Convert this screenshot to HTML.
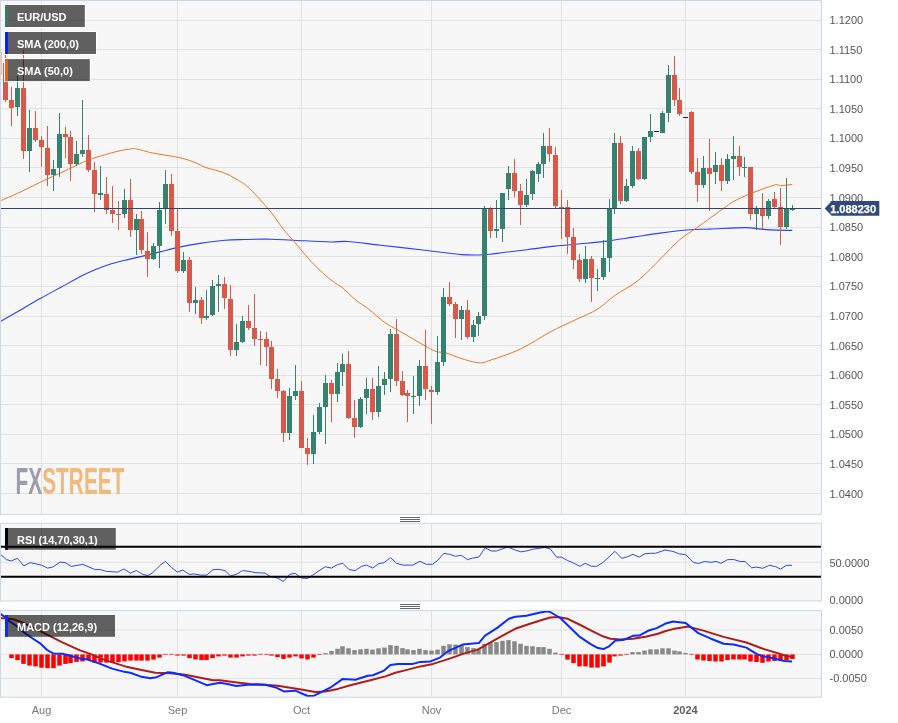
<!DOCTYPE html><html><head><meta charset="utf-8"><style>html,body{margin:0;padding:0;background:#fff;}svg{display:block;will-change:transform;font-family:"Liberation Sans",sans-serif;}</style></head><body>
<svg width="898" height="723" viewBox="0 0 898 723">
<rect x="0" y="0" width="898" height="723" fill="#ffffff"/>
<defs>
<clipPath id="cp0"><rect x="1" y="1" width="819.9" height="512.9"/></clipPath>
<clipPath id="cp1"><rect x="1" y="523.8" width="819.9" height="76.7"/></clipPath>
<clipPath id="cp2"><rect x="1" y="611.1" width="819.9" height="85.6"/></clipPath>
</defs>
<rect x="0.5" y="0.5" width="820.9" height="513.9" fill="#f7f7f7" stroke="#cdd5e6" stroke-width="1"/>
<rect x="0.5" y="523.3" width="820.9" height="77.7" fill="#f7f7f7" stroke="#cdd5e6" stroke-width="1"/>
<rect x="0.5" y="610.6" width="820.9" height="86.6" fill="#f7f7f7" stroke="#cdd5e6" stroke-width="1"/>
<g clip-path="url(#cp0)">
<line x1="0" x2="821.4" y1="20.5" y2="20.5" stroke="#e1e1e1" stroke-width="1"/>
<line x1="0" x2="821.4" y1="49.5" y2="49.5" stroke="#e1e1e1" stroke-width="1"/>
<line x1="0" x2="821.4" y1="79.5" y2="79.5" stroke="#e1e1e1" stroke-width="1"/>
<line x1="0" x2="821.4" y1="108.5" y2="108.5" stroke="#e1e1e1" stroke-width="1"/>
<line x1="0" x2="821.4" y1="138.5" y2="138.5" stroke="#e1e1e1" stroke-width="1"/>
<line x1="0" x2="821.4" y1="167.5" y2="167.5" stroke="#e1e1e1" stroke-width="1"/>
<line x1="0" x2="821.4" y1="197.5" y2="197.5" stroke="#e1e1e1" stroke-width="1"/>
<line x1="0" x2="821.4" y1="227.5" y2="227.5" stroke="#e1e1e1" stroke-width="1"/>
<line x1="0" x2="821.4" y1="256.5" y2="256.5" stroke="#e1e1e1" stroke-width="1"/>
<line x1="0" x2="821.4" y1="286.5" y2="286.5" stroke="#e1e1e1" stroke-width="1"/>
<line x1="0" x2="821.4" y1="316.5" y2="316.5" stroke="#e1e1e1" stroke-width="1"/>
<line x1="0" x2="821.4" y1="345.5" y2="345.5" stroke="#e1e1e1" stroke-width="1"/>
<line x1="0" x2="821.4" y1="375.5" y2="375.5" stroke="#e1e1e1" stroke-width="1"/>
<line x1="0" x2="821.4" y1="404.5" y2="404.5" stroke="#e1e1e1" stroke-width="1"/>
<line x1="0" x2="821.4" y1="434.5" y2="434.5" stroke="#e1e1e1" stroke-width="1"/>
<line x1="0" x2="821.4" y1="463.5" y2="463.5" stroke="#e1e1e1" stroke-width="1"/>
<line x1="0" x2="821.4" y1="493.5" y2="493.5" stroke="#e1e1e1" stroke-width="1"/>
<line x1="41.5" x2="41.5" y1="0" y2="515" stroke="#e1e1e1" stroke-width="1"/>
<line x1="177.5" x2="177.5" y1="0" y2="515" stroke="#e1e1e1" stroke-width="1"/>
<line x1="301.5" x2="301.5" y1="0" y2="515" stroke="#e1e1e1" stroke-width="1"/>
<line x1="431.5" x2="431.5" y1="0" y2="515" stroke="#e1e1e1" stroke-width="1"/>
<line x1="561.5" x2="561.5" y1="0" y2="515" stroke="#e1e1e1" stroke-width="1"/>
<line x1="685.5" x2="685.5" y1="0" y2="515" stroke="#e1e1e1" stroke-width="1"/>
<text x="15.6" y="493.6" font-size="37.5" font-weight="bold" textLength="108.8" lengthAdjust="spacingAndGlyphs"><tspan fill="#9b9ea8">FX</tspan><tspan fill="#f0ba7c">STREET</tspan></text>
<path d="M0,321.8 C3.33,319.87 13.32,314.07 20,310.2 C26.68,306.33 33.27,302.43 40.1,298.6 C46.93,294.77 53.95,291.03 61,287.2 C68.05,283.37 76.73,278.5 82.4,275.6 C88.07,272.7 90.55,271.65 95,269.8 C99.45,267.95 104.1,266.08 109.1,264.5 C114.1,262.92 119.05,261.78 125,260.3 C130.95,258.82 138.97,257 144.8,255.6 C150.63,254.2 154.43,253.27 160,251.9 C165.57,250.53 171.53,248.82 178.2,247.4 C184.87,245.98 192.18,244.6 200,243.4 C207.82,242.2 217.58,240.85 225.1,240.2 C232.62,239.55 237.58,239.67 245.1,239.5 C252.62,239.33 262.27,239.08 270.2,239.2 C278.13,239.32 282.68,239.73 292.7,240.2 C302.72,240.67 321.12,241.78 330.3,242 C339.48,242.22 339.45,240.97 347.8,241.5 C356.15,242.03 367.53,243.75 380.4,245.2 C393.27,246.65 415.9,249.15 425,250.2 C434.1,251.25 428.88,250.77 435,251.5 C441.12,252.23 454.37,254.02 461.7,254.6 C469.03,255.18 474.28,255.05 479,255 C483.72,254.95 485.67,254.75 490,254.3 C494.33,253.85 498.58,253.1 505,252.3 C511.42,251.5 520.17,250.53 528.5,249.5 C536.83,248.47 546.4,247.05 555,246.1 C563.6,245.15 571.47,244.63 580.1,243.8 C588.73,242.97 597.9,242.22 606.8,241.1 C615.7,239.98 624.63,238.43 633.5,237.1 C642.37,235.77 650.58,234.32 660,233.1 C669.42,231.88 681.67,230.47 690,229.8 C698.33,229.13 700.82,229.47 710,229.1 C719.18,228.73 737.25,227.68 745.1,227.6 C752.95,227.52 752.93,228.22 757.1,228.6 C761.27,228.98 764.25,229.6 770.1,229.9 C775.95,230.2 788.52,230.32 792.2,230.4" fill="none" stroke="#2442ff" stroke-width="1.1" stroke-linejoin="round"/>
<path d="M0,201 C3.33,199.53 13.03,195.45 20,192.2 C26.97,188.95 34.63,184.9 41.8,181.5 C48.97,178.1 56.05,175.05 63,171.8 C69.95,168.55 78.17,164.35 83.5,162 C88.83,159.65 91.28,158.95 95,157.7 C98.72,156.45 101.97,155.58 105.8,154.5 C109.63,153.42 113.82,152.13 118,151.2 C122.18,150.27 127.83,149.28 130.9,148.9 C133.97,148.52 132.93,148.25 136.4,148.9 C139.87,149.55 146.77,151.73 151.7,152.8 C156.63,153.87 161.12,154.45 166,155.3 C170.88,156.15 176.17,156.7 181,157.9 C185.83,159.1 190.83,160.88 195,162.5 C199.17,164.12 201.38,165.97 206,167.6 C210.62,169.23 217.53,170.32 222.7,172.3 C227.87,174.28 232.45,176.72 237,179.5 C241.55,182.28 244.5,183.75 250,189 C255.5,194.25 264.38,204.22 270,211 C275.62,217.78 279.9,224.88 283.7,229.7 C287.5,234.52 289.75,236.35 292.8,239.9 C295.85,243.45 298.45,246.87 302,251 C305.55,255.13 309.28,259.88 314.1,264.7 C318.92,269.52 326.07,275.97 330.9,279.9 C335.73,283.83 339.05,285 343.1,288.3 C347.15,291.6 350.9,296.2 355.2,299.7 C359.5,303.2 364.08,305.58 368.9,309.3 C373.72,313.02 378.9,318.32 384.1,322 C389.3,325.68 393.2,327.38 400.1,331.4 C407,335.42 419.48,342.75 425.5,346.1 C431.52,349.45 432.78,350.37 436.2,351.5 C439.62,352.63 442.03,351.8 446,352.9 C449.97,354 454.58,356.45 460,358.1 C465.42,359.75 473.33,362.48 478.5,362.8 C483.67,363.12 483.93,362.33 491,360 C498.07,357.67 511.07,353.45 520.9,348.8 C530.73,344.15 540.98,336.9 550,332.1 C559.02,327.3 567.08,323.82 575,320 C582.92,316.18 590.85,313.3 597.5,309.2 C604.15,305.1 608.13,300.18 614.9,295.4 C621.67,290.62 630.35,286.73 638.1,280.5 C645.85,274.27 654.48,264.78 661.4,258 C668.32,251.22 673.8,244.77 679.6,239.8 C685.4,234.83 691.13,231.8 696.2,228.2 C701.27,224.6 705.47,221.48 710,218.2 C714.53,214.92 719.38,211.33 723.4,208.5 C727.42,205.67 729.65,203.65 734.1,201.2 C738.55,198.75 743.42,196.48 750.1,193.8 C756.78,191.12 769.13,186.47 774.2,185.1 C779.27,183.73 777.5,185.7 780.5,185.6 C783.5,185.5 790.25,184.68 792.2,184.5" fill="none" stroke="#f07524" stroke-width="1" stroke-linejoin="round"/>
<rect x="0" y="52" width="1.4" height="23" fill="#d85949"/>
<rect x="5" y="53" width="1" height="49" fill="#d85949"/>
<rect x="3" y="63" width="5" height="37" fill="#d85949"/>
<rect x="11" y="87" width="1" height="39" fill="#d85949"/>
<rect x="9" y="100" width="5" height="8" fill="#d85949"/>
<rect x="17" y="76" width="1" height="40" fill="#34826f"/>
<rect x="15" y="88" width="5" height="19" fill="#34826f"/>
<rect x="23" y="50" width="1" height="109" fill="#d85949"/>
<rect x="21" y="88" width="5" height="63" fill="#d85949"/>
<rect x="29" y="110" width="1" height="62" fill="#34826f"/>
<rect x="27" y="128" width="5" height="23" fill="#34826f"/>
<rect x="35" y="111" width="1" height="31" fill="#d85949"/>
<rect x="33" y="128" width="5" height="12" fill="#d85949"/>
<rect x="41" y="136" width="1" height="31" fill="#d85949"/>
<rect x="39" y="140" width="5" height="7" fill="#d85949"/>
<rect x="47" y="126" width="1" height="60" fill="#d85949"/>
<rect x="45" y="148" width="5" height="27" fill="#d85949"/>
<rect x="53" y="160" width="1" height="31" fill="#34826f"/>
<rect x="51" y="169" width="5" height="6" fill="#34826f"/>
<rect x="59" y="113" width="1" height="64" fill="#34826f"/>
<rect x="57" y="134" width="5" height="34" fill="#34826f"/>
<rect x="65" y="127" width="1" height="31" fill="#d85949"/>
<rect x="63" y="134" width="5" height="3" fill="#d85949"/>
<rect x="70" y="131" width="1" height="50" fill="#d85949"/>
<rect x="68" y="137" width="5" height="27" fill="#d85949"/>
<rect x="76" y="141" width="1" height="25" fill="#34826f"/>
<rect x="74" y="154" width="5" height="10" fill="#34826f"/>
<rect x="82" y="100" width="1" height="57" fill="#34826f"/>
<rect x="80" y="150" width="5" height="4" fill="#34826f"/>
<rect x="88" y="135" width="1" height="37" fill="#d85949"/>
<rect x="86" y="150" width="5" height="20" fill="#d85949"/>
<rect x="94" y="162" width="1" height="50" fill="#d85949"/>
<rect x="92" y="170" width="5" height="24" fill="#d85949"/>
<rect x="100" y="166" width="1" height="34" fill="#34826f"/>
<rect x="98" y="193" width="5" height="2" fill="#34826f"/>
<rect x="106" y="177" width="1" height="37" fill="#d85949"/>
<rect x="104" y="194" width="5" height="16" fill="#d85949"/>
<rect x="112" y="186" width="1" height="37" fill="#d85949"/>
<rect x="110" y="210" width="5" height="4" fill="#d85949"/>
<rect x="118" y="201" width="1" height="29" fill="#d85949"/>
<rect x="116" y="214" width="5" height="1" fill="#d85949"/>
<rect x="124" y="189" width="1" height="29" fill="#34826f"/>
<rect x="122" y="200" width="5" height="14" fill="#34826f"/>
<rect x="130" y="179" width="1" height="58" fill="#d85949"/>
<rect x="128" y="200" width="5" height="30" fill="#d85949"/>
<rect x="136" y="214" width="1" height="41" fill="#34826f"/>
<rect x="134" y="219" width="5" height="11" fill="#34826f"/>
<rect x="141" y="211" width="1" height="43" fill="#d85949"/>
<rect x="139" y="219" width="5" height="31" fill="#d85949"/>
<rect x="147" y="232" width="1" height="45" fill="#d85949"/>
<rect x="145" y="251" width="5" height="8" fill="#d85949"/>
<rect x="153" y="243" width="1" height="17" fill="#34826f"/>
<rect x="151" y="246" width="5" height="13" fill="#34826f"/>
<rect x="159" y="202" width="1" height="66" fill="#34826f"/>
<rect x="157" y="210" width="5" height="36" fill="#34826f"/>
<rect x="165" y="170" width="1" height="54" fill="#34826f"/>
<rect x="163" y="184" width="5" height="24" fill="#34826f"/>
<rect x="171" y="174" width="1" height="62" fill="#d85949"/>
<rect x="169" y="184" width="5" height="47" fill="#d85949"/>
<rect x="177" y="208" width="1" height="65" fill="#d85949"/>
<rect x="175" y="231" width="5" height="40" fill="#d85949"/>
<rect x="183" y="252" width="1" height="21" fill="#34826f"/>
<rect x="181" y="260" width="5" height="11" fill="#34826f"/>
<rect x="189" y="257" width="1" height="55" fill="#d85949"/>
<rect x="187" y="260" width="5" height="43" fill="#d85949"/>
<rect x="195" y="287" width="1" height="27" fill="#34826f"/>
<rect x="193" y="300" width="5" height="3" fill="#34826f"/>
<rect x="201" y="297" width="1" height="27" fill="#d85949"/>
<rect x="199" y="300" width="5" height="18" fill="#d85949"/>
<rect x="206" y="290" width="1" height="30" fill="#34826f"/>
<rect x="204" y="316" width="5" height="2" fill="#34826f"/>
<rect x="212" y="280" width="1" height="36" fill="#34826f"/>
<rect x="210" y="286" width="5" height="29" fill="#34826f"/>
<rect x="218" y="275" width="1" height="37" fill="#34826f"/>
<rect x="216" y="284" width="5" height="2" fill="#34826f"/>
<rect x="224" y="277" width="1" height="32" fill="#d85949"/>
<rect x="222" y="284" width="5" height="14" fill="#d85949"/>
<rect x="230" y="285" width="1" height="71" fill="#d85949"/>
<rect x="228" y="299" width="5" height="51" fill="#d85949"/>
<rect x="236" y="324" width="1" height="32" fill="#34826f"/>
<rect x="234" y="342" width="5" height="8" fill="#34826f"/>
<rect x="242" y="316" width="1" height="27" fill="#34826f"/>
<rect x="240" y="321" width="5" height="21" fill="#34826f"/>
<rect x="248" y="305" width="1" height="25" fill="#d85949"/>
<rect x="246" y="321" width="5" height="7" fill="#d85949"/>
<rect x="254" y="294" width="1" height="52" fill="#d85949"/>
<rect x="252" y="328" width="5" height="11" fill="#d85949"/>
<rect x="260" y="331" width="1" height="34" fill="#d85949"/>
<rect x="258" y="339" width="5" height="1" fill="#d85949"/>
<rect x="266" y="332" width="1" height="34" fill="#d85949"/>
<rect x="264" y="339" width="5" height="8" fill="#d85949"/>
<rect x="271" y="341" width="1" height="48" fill="#d85949"/>
<rect x="269" y="347" width="5" height="32" fill="#d85949"/>
<rect x="277" y="369" width="1" height="29" fill="#d85949"/>
<rect x="275" y="379" width="5" height="12" fill="#d85949"/>
<rect x="283" y="390" width="1" height="52" fill="#d85949"/>
<rect x="281" y="391" width="5" height="42" fill="#d85949"/>
<rect x="289" y="388" width="1" height="52" fill="#34826f"/>
<rect x="287" y="396" width="5" height="37" fill="#34826f"/>
<rect x="295" y="365" width="1" height="35" fill="#34826f"/>
<rect x="293" y="391" width="5" height="5" fill="#34826f"/>
<rect x="301" y="381" width="1" height="67" fill="#d85949"/>
<rect x="299" y="391" width="5" height="57" fill="#d85949"/>
<rect x="307" y="438" width="1" height="27" fill="#d85949"/>
<rect x="305" y="448" width="5" height="6" fill="#d85949"/>
<rect x="313" y="415" width="1" height="49" fill="#34826f"/>
<rect x="311" y="432" width="5" height="22" fill="#34826f"/>
<rect x="319" y="403" width="1" height="31" fill="#34826f"/>
<rect x="317" y="407" width="5" height="25" fill="#34826f"/>
<rect x="325" y="375" width="1" height="69" fill="#34826f"/>
<rect x="323" y="383" width="5" height="24" fill="#34826f"/>
<rect x="331" y="380" width="1" height="42" fill="#d85949"/>
<rect x="329" y="383" width="5" height="11" fill="#d85949"/>
<rect x="337" y="363" width="1" height="39" fill="#34826f"/>
<rect x="335" y="372" width="5" height="22" fill="#34826f"/>
<rect x="342" y="354" width="1" height="32" fill="#34826f"/>
<rect x="340" y="364" width="5" height="8" fill="#34826f"/>
<rect x="348" y="351" width="1" height="68" fill="#d85949"/>
<rect x="346" y="364" width="5" height="54" fill="#d85949"/>
<rect x="354" y="400" width="1" height="38" fill="#d85949"/>
<rect x="352" y="418" width="5" height="9" fill="#d85949"/>
<rect x="360" y="397" width="1" height="31" fill="#34826f"/>
<rect x="358" y="399" width="5" height="28" fill="#34826f"/>
<rect x="366" y="378" width="1" height="36" fill="#34826f"/>
<rect x="364" y="389" width="5" height="9" fill="#34826f"/>
<rect x="372" y="378" width="1" height="42" fill="#d85949"/>
<rect x="370" y="389" width="5" height="23" fill="#d85949"/>
<rect x="378" y="366" width="1" height="51" fill="#34826f"/>
<rect x="376" y="386" width="5" height="26" fill="#34826f"/>
<rect x="384" y="372" width="1" height="23" fill="#34826f"/>
<rect x="382" y="379" width="5" height="6" fill="#34826f"/>
<rect x="390" y="329" width="1" height="63" fill="#34826f"/>
<rect x="388" y="334" width="5" height="45" fill="#34826f"/>
<rect x="396" y="319" width="1" height="67" fill="#d85949"/>
<rect x="394" y="334" width="5" height="47" fill="#d85949"/>
<rect x="402" y="371" width="1" height="25" fill="#d85949"/>
<rect x="400" y="381" width="5" height="14" fill="#d85949"/>
<rect x="407" y="390" width="1" height="32" fill="#d85949"/>
<rect x="405" y="393" width="5" height="3" fill="#d85949"/>
<rect x="413" y="376" width="1" height="38" fill="#34826f"/>
<rect x="411" y="396" width="5" height="1" fill="#34826f"/>
<rect x="419" y="360" width="1" height="46" fill="#34826f"/>
<rect x="417" y="366" width="5" height="30" fill="#34826f"/>
<rect x="425" y="330" width="1" height="70" fill="#d85949"/>
<rect x="423" y="366" width="5" height="23" fill="#d85949"/>
<rect x="431" y="386" width="1" height="38" fill="#d85949"/>
<rect x="429" y="390" width="5" height="2" fill="#d85949"/>
<rect x="437" y="336" width="1" height="59" fill="#34826f"/>
<rect x="435" y="362" width="5" height="30" fill="#34826f"/>
<rect x="443" y="288" width="1" height="78" fill="#34826f"/>
<rect x="441" y="297" width="5" height="65" fill="#34826f"/>
<rect x="449" y="282" width="1" height="24" fill="#d85949"/>
<rect x="447" y="297" width="5" height="7" fill="#d85949"/>
<rect x="455" y="302" width="1" height="36" fill="#d85949"/>
<rect x="453" y="304" width="5" height="15" fill="#d85949"/>
<rect x="461" y="306" width="1" height="34" fill="#34826f"/>
<rect x="459" y="310" width="5" height="9" fill="#34826f"/>
<rect x="467" y="300" width="1" height="39" fill="#d85949"/>
<rect x="465" y="310" width="5" height="27" fill="#d85949"/>
<rect x="473" y="320" width="1" height="22" fill="#34826f"/>
<rect x="471" y="325" width="5" height="12" fill="#34826f"/>
<rect x="478" y="312" width="1" height="24" fill="#34826f"/>
<rect x="476" y="316" width="5" height="8" fill="#34826f"/>
<rect x="484" y="206" width="1" height="114" fill="#34826f"/>
<rect x="482" y="209" width="5" height="107" fill="#34826f"/>
<rect x="490" y="207" width="1" height="31" fill="#d85949"/>
<rect x="488" y="209" width="5" height="22" fill="#d85949"/>
<rect x="496" y="200" width="1" height="38" fill="#34826f"/>
<rect x="494" y="229" width="5" height="2" fill="#34826f"/>
<rect x="502" y="193" width="1" height="49" fill="#34826f"/>
<rect x="500" y="193" width="5" height="36" fill="#34826f"/>
<rect x="508" y="166" width="1" height="34" fill="#34826f"/>
<rect x="506" y="173" width="5" height="16" fill="#34826f"/>
<rect x="514" y="159" width="1" height="38" fill="#d85949"/>
<rect x="512" y="173" width="5" height="18" fill="#d85949"/>
<rect x="520" y="184" width="1" height="41" fill="#d85949"/>
<rect x="518" y="191" width="5" height="14" fill="#d85949"/>
<rect x="526" y="179" width="1" height="28" fill="#34826f"/>
<rect x="524" y="195" width="5" height="10" fill="#34826f"/>
<rect x="532" y="170" width="1" height="30" fill="#34826f"/>
<rect x="530" y="171" width="5" height="23" fill="#34826f"/>
<rect x="538" y="162" width="1" height="20" fill="#34826f"/>
<rect x="536" y="164" width="5" height="10" fill="#34826f"/>
<rect x="543" y="133" width="1" height="45" fill="#34826f"/>
<rect x="541" y="146" width="5" height="18" fill="#34826f"/>
<rect x="549" y="128" width="1" height="34" fill="#d85949"/>
<rect x="547" y="146" width="5" height="8" fill="#d85949"/>
<rect x="555" y="147" width="1" height="62" fill="#d85949"/>
<rect x="553" y="155" width="5" height="51" fill="#d85949"/>
<rect x="561" y="190" width="1" height="49" fill="#d85949"/>
<rect x="559" y="207" width="5" height="2" fill="#d85949"/>
<rect x="567" y="200" width="1" height="54" fill="#d85949"/>
<rect x="565" y="207" width="5" height="30" fill="#d85949"/>
<rect x="573" y="228" width="1" height="41" fill="#d85949"/>
<rect x="571" y="237" width="5" height="23" fill="#d85949"/>
<rect x="579" y="254" width="1" height="28" fill="#d85949"/>
<rect x="577" y="260" width="5" height="19" fill="#d85949"/>
<rect x="585" y="246" width="1" height="37" fill="#34826f"/>
<rect x="583" y="259" width="5" height="20" fill="#34826f"/>
<rect x="591" y="256" width="1" height="46" fill="#d85949"/>
<rect x="589" y="259" width="5" height="19" fill="#d85949"/>
<rect x="597" y="269" width="1" height="22" fill="#34826f"/>
<rect x="595" y="278" width="5" height="1" fill="#34826f"/>
<rect x="603" y="240" width="1" height="40" fill="#34826f"/>
<rect x="601" y="258" width="5" height="19" fill="#34826f"/>
<rect x="609" y="199" width="1" height="73" fill="#34826f"/>
<rect x="607" y="208" width="5" height="50" fill="#34826f"/>
<rect x="614" y="133" width="1" height="81" fill="#34826f"/>
<rect x="612" y="143" width="5" height="65" fill="#34826f"/>
<rect x="620" y="136" width="1" height="68" fill="#d85949"/>
<rect x="618" y="143" width="5" height="58" fill="#d85949"/>
<rect x="626" y="179" width="1" height="23" fill="#34826f"/>
<rect x="624" y="186" width="5" height="15" fill="#34826f"/>
<rect x="632" y="146" width="1" height="42" fill="#34826f"/>
<rect x="630" y="151" width="5" height="35" fill="#34826f"/>
<rect x="638" y="148" width="1" height="32" fill="#d85949"/>
<rect x="636" y="151" width="5" height="28" fill="#d85949"/>
<rect x="644" y="137" width="1" height="43" fill="#34826f"/>
<rect x="642" y="137" width="5" height="42" fill="#34826f"/>
<rect x="650" y="114" width="1" height="28" fill="#34826f"/>
<rect x="648" y="131" width="5" height="6" fill="#34826f"/>
<rect x="654" y="131" width="5" height="1" fill="#222"/>
<rect x="662" y="111" width="1" height="22" fill="#34826f"/>
<rect x="660" y="113" width="5" height="20" fill="#34826f"/>
<rect x="668" y="65" width="1" height="57" fill="#34826f"/>
<rect x="666" y="75" width="5" height="38" fill="#34826f"/>
<rect x="674" y="56" width="1" height="50" fill="#d85949"/>
<rect x="672" y="75" width="5" height="25" fill="#d85949"/>
<rect x="679" y="88" width="1" height="28" fill="#d85949"/>
<rect x="677" y="100" width="5" height="14" fill="#d85949"/>
<rect x="683" y="117" width="5" height="1" fill="#222"/>
<rect x="691" y="111" width="1" height="63" fill="#d85949"/>
<rect x="689" y="112" width="5" height="60" fill="#d85949"/>
<rect x="697" y="158" width="1" height="44" fill="#d85949"/>
<rect x="695" y="172" width="5" height="13" fill="#d85949"/>
<rect x="703" y="156" width="1" height="32" fill="#34826f"/>
<rect x="701" y="168" width="5" height="17" fill="#34826f"/>
<rect x="709" y="139" width="1" height="72" fill="#d85949"/>
<rect x="707" y="168" width="5" height="6" fill="#d85949"/>
<rect x="715" y="152" width="1" height="32" fill="#34826f"/>
<rect x="713" y="165" width="5" height="7" fill="#34826f"/>
<rect x="721" y="158" width="1" height="33" fill="#d85949"/>
<rect x="719" y="165" width="5" height="16" fill="#d85949"/>
<rect x="727" y="154" width="1" height="30" fill="#34826f"/>
<rect x="725" y="159" width="5" height="22" fill="#34826f"/>
<rect x="733" y="136" width="1" height="44" fill="#34826f"/>
<rect x="731" y="156" width="5" height="3" fill="#34826f"/>
<rect x="739" y="146" width="1" height="30" fill="#d85949"/>
<rect x="737" y="156" width="5" height="11" fill="#d85949"/>
<rect x="744" y="157" width="1" height="20" fill="#34826f"/>
<rect x="742" y="167" width="5" height="1" fill="#34826f"/>
<rect x="750" y="167" width="1" height="53" fill="#d85949"/>
<rect x="748" y="167" width="5" height="47" fill="#d85949"/>
<rect x="756" y="206" width="1" height="24" fill="#34826f"/>
<rect x="754" y="208" width="5" height="6" fill="#34826f"/>
<rect x="762" y="193" width="1" height="36" fill="#d85949"/>
<rect x="760" y="209" width="5" height="7" fill="#d85949"/>
<rect x="768" y="199" width="1" height="20" fill="#34826f"/>
<rect x="766" y="201" width="5" height="15" fill="#34826f"/>
<rect x="774" y="192" width="1" height="17" fill="#d85949"/>
<rect x="772" y="199" width="5" height="8" fill="#d85949"/>
<rect x="780" y="188" width="1" height="57" fill="#d85949"/>
<rect x="778" y="207" width="5" height="20" fill="#d85949"/>
<rect x="786" y="178" width="1" height="51" fill="#34826f"/>
<rect x="784" y="209" width="5" height="18" fill="#34826f"/>
<rect x="792" y="205" width="1" height="6" fill="#34826f"/>
<rect x="790" y="209" width="5" height="1" fill="#34826f"/>
<line x1="0" x2="821.4" y1="208.5" y2="208.5" stroke="#2d4472" stroke-width="1.1"/>
</g>
<rect x="4.5" y="4.5" width="80.8" height="23" fill="none" stroke="#ffffff" stroke-width="1"/>
<rect x="5" y="5" width="79.8" height="22" fill="#636363" style="mix-blend-mode:multiply"/>
<rect x="5" y="5" width="3" height="22" fill="#2e7d6b"/>
<text x="17" y="21.2" font-size="11" font-weight="bold" fill="#ffffff">EUR/USD</text>
<rect x="4.5" y="31.5" width="92" height="23" fill="none" stroke="#ffffff" stroke-width="1"/>
<rect x="5" y="32" width="91" height="22" fill="#636363" style="mix-blend-mode:multiply"/>
<rect x="5" y="32" width="3" height="22" fill="#0022ff"/>
<text x="17" y="48.2" font-size="11" font-weight="bold" fill="#ffffff">SMA (200,0)</text>
<rect x="4.5" y="58.6" width="85.8" height="23" fill="none" stroke="#ffffff" stroke-width="1"/>
<rect x="5" y="59.1" width="84.8" height="22" fill="#636363" style="mix-blend-mode:multiply"/>
<rect x="5" y="59.1" width="3" height="22" fill="#f06010"/>
<text x="17" y="75.3" font-size="11" font-weight="bold" fill="#ffffff">SMA (50,0)</text>
<text x="829.5" y="23.9" font-size="11" fill="#555555">1.1200</text>
<text x="829.5" y="53.5" font-size="11" fill="#555555">1.1150</text>
<text x="829.5" y="83.1" font-size="11" fill="#555555">1.1100</text>
<text x="829.5" y="112.7" font-size="11" fill="#555555">1.1050</text>
<text x="829.5" y="142.3" font-size="11" fill="#555555">1.1000</text>
<text x="829.5" y="171.9" font-size="11" fill="#555555">1.0950</text>
<text x="829.5" y="201.5" font-size="11" fill="#555555">1.0900</text>
<text x="829.5" y="231.1" font-size="11" fill="#555555">1.0850</text>
<text x="829.5" y="260.7" font-size="11" fill="#555555">1.0800</text>
<text x="829.5" y="290.3" font-size="11" fill="#555555">1.0750</text>
<text x="829.5" y="319.9" font-size="11" fill="#555555">1.0700</text>
<text x="829.5" y="349.5" font-size="11" fill="#555555">1.0650</text>
<text x="829.5" y="379.1" font-size="11" fill="#555555">1.0600</text>
<text x="829.5" y="408.7" font-size="11" fill="#555555">1.0550</text>
<text x="829.5" y="438.3" font-size="11" fill="#555555">1.0500</text>
<text x="829.5" y="467.9" font-size="11" fill="#555555">1.0450</text>
<text x="829.5" y="497.5" font-size="11" fill="#555555">1.0400</text>
<path d="M824.7,208.4 L831.7,201.1 L879.3,201.1 L879.3,215.7 L831.7,215.7 Z" fill="#2f4a7a"/>
<text x="830.2" y="212.5" font-size="11" font-weight="bold" fill="#ffffff" stroke="#ffffff" stroke-width="0.25">1.088230</text>
<g clip-path="url(#cp1)">
<line x1="41.5" x2="41.5" y1="523" y2="601" stroke="#e1e1e1" stroke-width="1"/>
<line x1="177.5" x2="177.5" y1="523" y2="601" stroke="#e1e1e1" stroke-width="1"/>
<line x1="301.5" x2="301.5" y1="523" y2="601" stroke="#e1e1e1" stroke-width="1"/>
<line x1="431.5" x2="431.5" y1="523" y2="601" stroke="#e1e1e1" stroke-width="1"/>
<line x1="561.5" x2="561.5" y1="523" y2="601" stroke="#e1e1e1" stroke-width="1"/>
<line x1="685.5" x2="685.5" y1="523" y2="601" stroke="#e1e1e1" stroke-width="1"/>
<line x1="0" x2="821.4" y1="562.2" y2="562.2" stroke="#e1e1e1" stroke-width="1"/>
<polyline points="0,553.8 6.3,559.6 11.3,560.9 17.5,558.3 23.8,565.9 30.1,562.6 41.3,565.1 47.6,568.1 52.6,567.1 60.1,562.1 65.1,562.6 71.4,566.4 82.7,564.4 95.2,569.6 100.2,569.6 106.5,571.4 117.8,572.1 124,568.9 130.3,573.1 136.6,570.6 142.8,574.4 147.8,575.6 152.8,572.6 160.4,565.1 165.4,561.4 171.6,567.6 177.4,572.1 182.9,570.1 189.2,574.4 194.2,573.9 200.4,575.1 206.7,575.1 213,569.6 219.2,569.4 225,570.6 230.5,575.9 236.3,574.3 242.6,570.6 248.8,571.3 255.1,572.6 265.1,573.1 270.1,576.4 277.6,578.1 283.4,581.4 289.7,574.3 295.2,573.3 301.4,578.1 307.7,578.4 312.7,575.1 319,570.8 325.2,566.8 331.5,568.1 337.3,564.6 342.8,563.3 349,569.6 355.3,570.6 361.6,566.3 366.6,565.1 372.8,568.1 378.4,563.8 384.1,562.6 390.4,557.6 396.7,563.3 402.9,565.1 412.9,565.1 420,561.3 426.2,564.3 432.5,564.3 438,560.1 443.8,553.3 449.5,554.3 455.5,556.3 461.3,555.3 467.6,559.6 472.6,558.1 478.8,557.1 485.1,547.8 491.4,551 496.4,551 506.4,547.5 508.9,547.5 515.2,550 520.7,551.8 526.4,551 532.7,549.3 539,548.3 544.7,547.5 550.2,548.8 556.5,557.1 561.5,557.1 567.8,560.6 574,563.3 579.8,566.3 585.3,563.3 591.6,566.3 596.6,566.3 602.9,562.6 609.1,556.8 614.9,551.3 621.7,558.3 627.4,556.8 632.9,554.3 639.2,557.1 645,553.8 650.5,553.3 655.5,553.3 665,550 673,551.4 679.3,553.9 685.7,554.7 693.2,562.3 698.3,563.5 704.6,561.5 711,562.3 716,561.5 721.1,563.3 727.4,559.7 733.7,559.5 740.1,561.5 745.1,561.5 751.5,567.8 756.5,567.1 762.9,568.3 769.2,565.3 775.5,566.6 780.6,569.1 786.4,565.3 792,565.3" fill="none" stroke="#2748ff" stroke-width="1" stroke-linejoin="round"/>
</g>
<rect x="5" y="528" width="110.8" height="21.7" fill="#636363" style="mix-blend-mode:multiply"/>
<rect x="5" y="528" width="3" height="21.7" fill="#000"/>
<text x="17" y="543.9" font-size="11" font-weight="bold" fill="#ffffff">RSI (14,70,30,1)</text>
<g clip-path="url(#cp1)">
<line x1="0" x2="821.4" y1="546.8" y2="546.8" stroke="#000" stroke-width="2"/>
<line x1="0" x2="821.4" y1="576.7" y2="576.7" stroke="#000" stroke-width="2"/>
</g>
<text x="829.5" y="567.1" font-size="11" fill="#555555">50.0000</text>
<text x="829.5" y="603.9" font-size="11" fill="#555555">0.0000</text>
<g clip-path="url(#cp2)">
<line x1="41.5" x2="41.5" y1="610" y2="698" stroke="#e1e1e1" stroke-width="1"/>
<line x1="177.5" x2="177.5" y1="610" y2="698" stroke="#e1e1e1" stroke-width="1"/>
<line x1="301.5" x2="301.5" y1="610" y2="698" stroke="#e1e1e1" stroke-width="1"/>
<line x1="431.5" x2="431.5" y1="610" y2="698" stroke="#e1e1e1" stroke-width="1"/>
<line x1="561.5" x2="561.5" y1="610" y2="698" stroke="#e1e1e1" stroke-width="1"/>
<line x1="685.5" x2="685.5" y1="610" y2="698" stroke="#e1e1e1" stroke-width="1"/>
<line x1="0" x2="821.4" y1="630.0" y2="630.0" stroke="#e1e1e1" stroke-width="1"/>
<line x1="0" x2="821.4" y1="654.4" y2="654.4" stroke="#e1e1e1" stroke-width="1"/>
<line x1="0" x2="821.4" y1="678.4" y2="678.4" stroke="#e1e1e1" stroke-width="1"/>
<rect x="9.25" y="654.4" width="4.5" height="3.7" fill="#ff0000"/>
<rect x="15.25" y="654.4" width="4.5" height="5.7" fill="#ff0000"/>
<rect x="21.25" y="654.4" width="4.5" height="9.5" fill="#ff0000"/>
<rect x="27.25" y="654.4" width="4.5" height="11.2" fill="#ff0000"/>
<rect x="33.25" y="654.4" width="4.5" height="12" fill="#ff0000"/>
<rect x="39.25" y="654.4" width="4.5" height="13.3" fill="#ff0000"/>
<rect x="45.25" y="654.4" width="4.5" height="13.8" fill="#ff0000"/>
<rect x="51.25" y="654.4" width="4.5" height="13.8" fill="#ff0000"/>
<rect x="57.25" y="654.4" width="4.5" height="11.2" fill="#ff0000"/>
<rect x="63.25" y="654.4" width="4.5" height="9.5" fill="#ff0000"/>
<rect x="68.25" y="654.4" width="4.5" height="8.7" fill="#ff0000"/>
<rect x="74.25" y="654.4" width="4.5" height="7.5" fill="#ff0000"/>
<rect x="80.25" y="654.4" width="4.5" height="7" fill="#ff0000"/>
<rect x="86.25" y="654.4" width="4.5" height="5.7" fill="#ff0000"/>
<rect x="92.25" y="654.4" width="4.5" height="8.2" fill="#ff0000"/>
<rect x="98.25" y="654.4" width="4.5" height="8.2" fill="#ff0000"/>
<rect x="104.25" y="654.4" width="4.5" height="8.2" fill="#ff0000"/>
<rect x="110.25" y="654.4" width="4.5" height="8.2" fill="#ff0000"/>
<rect x="116.25" y="654.4" width="4.5" height="7.7" fill="#ff0000"/>
<rect x="122.25" y="654.4" width="4.5" height="7" fill="#ff0000"/>
<rect x="128.25" y="654.4" width="4.5" height="6.2" fill="#ff0000"/>
<rect x="134.25" y="654.4" width="4.5" height="6.2" fill="#ff0000"/>
<rect x="139.25" y="654.4" width="4.5" height="6.2" fill="#ff0000"/>
<rect x="145.25" y="654.4" width="4.5" height="6.2" fill="#ff0000"/>
<rect x="151.25" y="654.4" width="4.5" height="5.2" fill="#ff0000"/>
<rect x="157.25" y="654.4" width="4.5" height="3.2" fill="#ff0000"/>
<rect x="163.25" y="653.8" width="4.5" height="1.2" fill="#ff6060"/>
<rect x="169.25" y="653.8" width="4.5" height="1.2" fill="#ff6060"/>
<rect x="175.25" y="654.4" width="4.5" height="1.2" fill="#ff0000"/>
<rect x="181.25" y="654.4" width="4.5" height="1.2" fill="#ff0000"/>
<rect x="187.25" y="654.4" width="4.5" height="3.7" fill="#ff0000"/>
<rect x="193.25" y="654.4" width="4.5" height="5" fill="#ff0000"/>
<rect x="199.25" y="654.4" width="4.5" height="5.7" fill="#ff0000"/>
<rect x="204.25" y="654.4" width="4.5" height="5.7" fill="#ff0000"/>
<rect x="210.25" y="654.4" width="4.5" height="3.7" fill="#ff0000"/>
<rect x="216.25" y="654.4" width="4.5" height="2" fill="#ff0000"/>
<rect x="222.25" y="654.4" width="4.5" height="1.2" fill="#ff0000"/>
<rect x="228.25" y="654.4" width="4.5" height="3.2" fill="#ff0000"/>
<rect x="234.25" y="654.4" width="4.5" height="3.2" fill="#ff0000"/>
<rect x="240.25" y="654.4" width="4.5" height="2" fill="#ff0000"/>
<rect x="246.25" y="654.4" width="4.5" height="1.2" fill="#ff0000"/>
<rect x="252.25" y="654.4" width="4.5" height="1.2" fill="#ff0000"/>
<rect x="258.25" y="653.8" width="4.5" height="1.2" fill="#ff6060"/>
<rect x="264.25" y="653.8" width="4.5" height="1.2" fill="#ff6060"/>
<rect x="269.25" y="654.4" width="4.5" height="1.2" fill="#ff0000"/>
<rect x="275.25" y="654.4" width="4.5" height="2.7" fill="#ff0000"/>
<rect x="281.25" y="654.4" width="4.5" height="4.5" fill="#ff0000"/>
<rect x="287.25" y="654.4" width="4.5" height="3.2" fill="#ff0000"/>
<rect x="293.25" y="654.4" width="4.5" height="2" fill="#ff0000"/>
<rect x="299.25" y="654.4" width="4.5" height="4" fill="#ff0000"/>
<rect x="305.25" y="654.4" width="4.5" height="5" fill="#ff0000"/>
<rect x="311.25" y="654.4" width="4.5" height="3.2" fill="#ff0000"/>
<rect x="317.25" y="653.8" width="4.5" height="1.2" fill="#ff6060"/>
<rect x="323.25" y="653.1" width="4.5" height="1.3" fill="#888888"/>
<rect x="329.25" y="650.9" width="4.5" height="3.5" fill="#888888"/>
<rect x="335.25" y="648.8" width="4.5" height="5.6" fill="#888888"/>
<rect x="340.25" y="646.3" width="4.5" height="8.1" fill="#888888"/>
<rect x="346.25" y="648.3" width="4.5" height="6.1" fill="#888888"/>
<rect x="352.25" y="650.1" width="4.5" height="4.3" fill="#888888"/>
<rect x="358.25" y="649.3" width="4.5" height="5.1" fill="#888888"/>
<rect x="364.25" y="648.8" width="4.5" height="5.6" fill="#888888"/>
<rect x="370.25" y="649.6" width="4.5" height="4.8" fill="#888888"/>
<rect x="376.25" y="648.3" width="4.5" height="6.1" fill="#888888"/>
<rect x="382.25" y="647.6" width="4.5" height="6.8" fill="#888888"/>
<rect x="388.25" y="645.1" width="4.5" height="9.3" fill="#888888"/>
<rect x="394.25" y="645.8" width="4.5" height="8.6" fill="#888888"/>
<rect x="400.25" y="648.1" width="4.5" height="6.3" fill="#888888"/>
<rect x="405.25" y="649.3" width="4.5" height="5.1" fill="#888888"/>
<rect x="411.25" y="650.1" width="4.5" height="4.3" fill="#888888"/>
<rect x="417.25" y="648.8" width="4.5" height="5.6" fill="#888888"/>
<rect x="423.25" y="650.1" width="4.5" height="4.3" fill="#888888"/>
<rect x="429.25" y="650.6" width="4.5" height="3.8" fill="#888888"/>
<rect x="435.25" y="649.6" width="4.5" height="4.8" fill="#888888"/>
<rect x="441.25" y="645.8" width="4.5" height="8.6" fill="#888888"/>
<rect x="447.25" y="644.3" width="4.5" height="10.1" fill="#888888"/>
<rect x="453.25" y="644.6" width="4.5" height="9.8" fill="#888888"/>
<rect x="459.25" y="645.1" width="4.5" height="9.3" fill="#888888"/>
<rect x="465.25" y="647.1" width="4.5" height="7.3" fill="#888888"/>
<rect x="471.25" y="648.1" width="4.5" height="6.3" fill="#888888"/>
<rect x="476.25" y="648.8" width="4.5" height="5.6" fill="#888888"/>
<rect x="482.25" y="643.8" width="4.5" height="10.6" fill="#888888"/>
<rect x="488.25" y="642.6" width="4.5" height="11.8" fill="#888888"/>
<rect x="494.25" y="642.1" width="4.5" height="12.3" fill="#888888"/>
<rect x="500.25" y="640.8" width="4.5" height="13.6" fill="#888888"/>
<rect x="506.25" y="640.1" width="4.5" height="14.3" fill="#888888"/>
<rect x="512.25" y="641.3" width="4.5" height="13.1" fill="#888888"/>
<rect x="518.25" y="643.8" width="4.5" height="10.6" fill="#888888"/>
<rect x="524.25" y="645.8" width="4.5" height="8.6" fill="#888888"/>
<rect x="530.25" y="646.3" width="4.5" height="8.1" fill="#888888"/>
<rect x="536.25" y="647.1" width="4.5" height="7.3" fill="#888888"/>
<rect x="541.25" y="647.1" width="4.5" height="7.3" fill="#888888"/>
<rect x="547.25" y="648.8" width="4.5" height="5.6" fill="#888888"/>
<rect x="553.25" y="652.6" width="4.5" height="1.8" fill="#888888"/>
<rect x="559.25" y="653.8" width="4.5" height="1.2" fill="#ff6060"/>
<rect x="565.25" y="654.4" width="4.5" height="5.2" fill="#ff0000"/>
<rect x="571.25" y="654.4" width="4.5" height="8.7" fill="#ff0000"/>
<rect x="577.25" y="654.4" width="4.5" height="12" fill="#ff0000"/>
<rect x="583.25" y="654.4" width="4.5" height="12" fill="#ff0000"/>
<rect x="589.25" y="654.4" width="4.5" height="13.2" fill="#ff0000"/>
<rect x="595.25" y="654.4" width="4.5" height="13.2" fill="#ff0000"/>
<rect x="601.25" y="654.4" width="4.5" height="12" fill="#ff0000"/>
<rect x="607.25" y="654.4" width="4.5" height="8.2" fill="#ff0000"/>
<rect x="612.25" y="654.4" width="4.5" height="2" fill="#ff0000"/>
<rect x="618.25" y="654.4" width="4.5" height="1.2" fill="#ff0000"/>
<rect x="624.25" y="653.8" width="4.5" height="1.2" fill="#ff6060"/>
<rect x="630.25" y="652.1" width="4.5" height="2.3" fill="#888888"/>
<rect x="636.25" y="652.1" width="4.5" height="2.3" fill="#888888"/>
<rect x="642.25" y="650.6" width="4.5" height="3.8" fill="#888888"/>
<rect x="648.25" y="649.3" width="4.5" height="5.1" fill="#888888"/>
<rect x="654.25" y="649.3" width="4.5" height="5.1" fill="#888888"/>
<rect x="660.25" y="648.3" width="4.5" height="6.1" fill="#888888"/>
<rect x="666.25" y="648.3" width="4.5" height="6.1" fill="#888888"/>
<rect x="672.25" y="650.6" width="4.5" height="3.8" fill="#888888"/>
<rect x="677.25" y="651.4" width="4.5" height="3" fill="#888888"/>
<rect x="683.25" y="652.9" width="4.5" height="1.5" fill="#888888"/>
<rect x="689.25" y="653.8" width="4.5" height="1.2" fill="#ff6060"/>
<rect x="695.25" y="654.4" width="4.5" height="5.1" fill="#ff0000"/>
<rect x="701.25" y="654.4" width="4.5" height="6.1" fill="#ff0000"/>
<rect x="707.25" y="654.4" width="4.5" height="6.6" fill="#ff0000"/>
<rect x="713.25" y="654.4" width="4.5" height="7.1" fill="#ff0000"/>
<rect x="719.25" y="654.4" width="4.5" height="7.1" fill="#ff0000"/>
<rect x="725.25" y="654.4" width="4.5" height="5.6" fill="#ff0000"/>
<rect x="731.25" y="654.4" width="4.5" height="5.1" fill="#ff0000"/>
<rect x="737.25" y="654.4" width="4.5" height="5.1" fill="#ff0000"/>
<rect x="742.25" y="654.4" width="4.5" height="5.1" fill="#ff0000"/>
<rect x="748.25" y="654.4" width="4.5" height="7.1" fill="#ff0000"/>
<rect x="754.25" y="654.4" width="4.5" height="7.6" fill="#ff0000"/>
<rect x="760.25" y="654.4" width="4.5" height="8.4" fill="#ff0000"/>
<rect x="766.25" y="654.4" width="4.5" height="7.1" fill="#ff0000"/>
<rect x="772.25" y="654.4" width="4.5" height="6.6" fill="#ff0000"/>
<rect x="778.25" y="654.4" width="4.5" height="6.6" fill="#ff0000"/>
<rect x="784.25" y="654.4" width="4.5" height="5.8" fill="#ff0000"/>
<rect x="790.25" y="654.4" width="4.5" height="4.6" fill="#ff0000"/>
<polyline points="0,618.2 5.3,618.2 13.4,619.3 22.3,622.4 35.6,628.6 49,635.7 62.4,642.4 80,650.4 90.2,653.9 105.2,660.1 125.3,666.4 142.8,670.2 155.3,672.7 170.4,673.2 185.4,674.7 200.4,677.7 213,680.2 220,680.2 235,682.2 250.1,683.9 265.1,684.7 277.6,685.7 290.2,687.7 302.7,689.7 315.2,691.9 325.2,691.4 337.8,688.9 350.3,685.2 370.3,680.2 385.4,676.4 395.4,672.7 407.9,669.6 420.4,666.4 433,663.9 445,660.1 452.5,657.6 465.1,653.1 477.6,649.6 490.1,642.6 502.6,635.6 515.2,628.8 527.7,624.5 540.2,620.5 550.2,617.5 557.8,617 567.8,618.8 580.3,625 592.8,631.3 602.9,636.3 610.4,638.8 620.4,639.6 632.9,638.8 645.5,636.8 658,633.8 665,631.3 673,629.1 688.2,626.6 703.4,630.6 723.6,636.9 746.4,642.5 761.6,648.3 784.4,655.2 792,656.9" fill="none" stroke="#b01c1c" stroke-width="2" stroke-linejoin="round"/>
<polyline points="0,613.5 3.6,616.1 8.9,621 16,625.5 23.2,631.7 31.2,637.5 40.1,643.3 47.2,650 53.5,653.6 62.4,653.8 68.6,655.3 80,658.5 87.7,659.6 100.2,663.9 112.8,668.9 122.8,671.4 130.3,672.7 140.3,676.4 150.3,678.2 156.6,677.2 167.9,672.2 172.9,672.7 182.9,675.2 197.9,681.4 206.7,685.2 213,683.9 220,682.7 227.5,683.9 236.3,685.9 247.6,684.7 265.1,684.7 275.1,687.2 283.9,691.4 295.2,690.7 307.7,696 314,695.7 320.2,692.7 330.2,687.7 342.8,678.9 355.3,679.7 367.8,675.7 372.8,675.2 384.1,670.6 390.4,665.1 397.9,663.9 412.9,663.9 420.4,661.9 430.5,661.4 436.7,658.9 440,657.6 447.5,651.4 462.6,644.6 478.8,643.1 485.1,635.6 497.6,627.6 508.9,618.8 515.2,616.8 526.4,615.8 540.2,612.5 547.7,611.3 550.2,612 560.3,618 579.1,636.3 590.3,643.8 597.9,648.1 603.4,649.1 609.1,646.3 615.4,640.6 622.9,640.1 632.9,635.8 639.2,635.6 648,630.8 656.7,628.1 665,623.8 673,621.5 685.7,623 698.3,633.1 711,638.7 723.6,643.8 733.7,644.5 746.4,647.6 756.5,653.9 761.6,655.9 774.2,658.5 784.4,661 792,661.5" fill="none" stroke="#0a2cff" stroke-width="2" stroke-linejoin="round"/>
</g>
<rect x="5" y="615" width="110" height="21.8" fill="#636363" style="mix-blend-mode:multiply"/>
<rect x="5" y="615" width="3" height="21.8" fill="#0a2cff"/>
<text x="17" y="630.9" font-size="11" font-weight="bold" fill="#ffffff">MACD (12,26,9)</text>
<text x="829.5" y="633.9" font-size="11" fill="#555555">0.0050</text>
<text x="829.5" y="658.3" font-size="11" fill="#555555">0.0000</text>
<text x="829.5" y="682.3" font-size="11" fill="#555555">-0.0050</text>
<line x1="400" x2="420" y1="517.5" y2="517.5" stroke="#666" stroke-width="1"/>
<line x1="400" x2="420" y1="519.5" y2="519.5" stroke="#666" stroke-width="1"/>
<line x1="400" x2="420" y1="521.5" y2="521.5" stroke="#666" stroke-width="1"/>
<line x1="400" x2="420" y1="604.5" y2="604.5" stroke="#666" stroke-width="1"/>
<line x1="400" x2="420" y1="606.5" y2="606.5" stroke="#666" stroke-width="1"/>
<line x1="400" x2="420" y1="608.5" y2="608.5" stroke="#666" stroke-width="1"/>
<text x="41.5" y="714.3" font-size="11" fill="#777777" text-anchor="middle">Aug</text>
<text x="177.5" y="714.3" font-size="11" fill="#777777" text-anchor="middle">Sep</text>
<text x="301.5" y="714.3" font-size="11" fill="#777777" text-anchor="middle">Oct</text>
<text x="431.5" y="714.3" font-size="11" fill="#777777" text-anchor="middle">Nov</text>
<text x="561.5" y="714.3" font-size="11" fill="#777777" text-anchor="middle">Dec</text>
<text x="685.5" y="714.3" font-size="11" font-weight="bold" fill="#606060" text-anchor="middle">2024</text>
</svg></body></html>
